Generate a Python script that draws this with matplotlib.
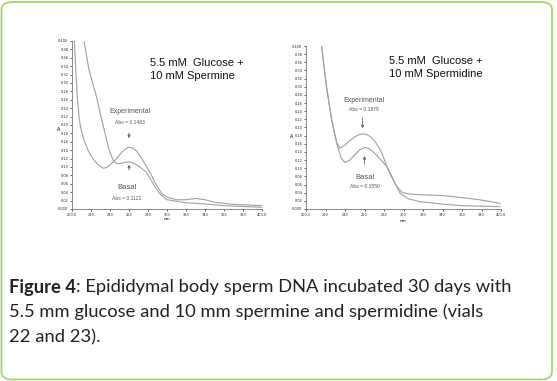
import matplotlib
matplotlib.use("Agg")
import matplotlib.pyplot as plt
from matplotlib.patches import FancyBboxPatch

W, H = 557, 381

# ---- data ----
sp_exp_nm = [201.0, 202.5, 204.0, 205.5, 207.7, 210.0, 212.5, 216.8, 220.0, 223.0, 228.0, 233.0, 236.5,
             240.0, 245.0, 250.0, 255.0, 259.5, 264.0, 268.0, 273.0, 278.0, 283.0, 288.0, 294.5, 300.0,
             310.0, 320.0, 330.0, 340.0, 350.0, 370.0, 400.0]
sp_exp_A = [0.55, 0.40, 0.33, 0.27, 0.212, 0.185, 0.165, 0.14, 0.127, 0.117, 0.104, 0.097, 0.099,
            0.105, 0.115, 0.129, 0.141, 0.147, 0.145, 0.138, 0.122, 0.103, 0.083, 0.060, 0.037, 0.028,
            0.022, 0.022, 0.025, 0.022, 0.016, 0.011, 0.008]

sp_bas_nm = [211.0, 212.6, 218.0, 225.8, 230.0, 234.0, 239.0, 244.0, 248.0, 252.0, 256.0, 260.0, 264.0,
             268.0, 273.0, 278.0, 283.0, 288.0, 293.0, 300.0, 320.0, 340.0, 360.0, 400.0]
sp_bas_A = [0.45, 0.40, 0.33, 0.267, 0.225, 0.188, 0.14, 0.113, 0.108, 0.109, 0.111, 0.112, 0.110,
            0.105, 0.097, 0.088, 0.070, 0.050, 0.035, 0.022, 0.015, 0.012, 0.008, 0.004]

sd_exp_nm = [214.0, 216.0, 221.0, 226.4, 230.0, 232.0, 234.9, 240.0, 245.0, 250.0, 255.0, 259.0, 263.0,
             267.0, 271.0, 275.0, 279.0, 283.0, 287.0, 291.3, 295.0, 298.0, 303.0, 310.0, 327.0, 340.0,
             360.0, 380.0, 399.0]
sd_exp_A = [0.45, 0.40, 0.30, 0.218, 0.18, 0.16, 0.149, 0.157, 0.168, 0.177, 0.183, 0.1845, 0.182,
            0.176, 0.165, 0.150, 0.130, 0.104, 0.082, 0.063, 0.050, 0.042, 0.038, 0.036, 0.034, 0.033,
            0.028, 0.022, 0.014]

sd_bas_nm = [214.0, 216.0, 221.0, 226.4, 231.5, 236.0, 240.0, 245.0, 250.0, 255.0, 260.0, 264.0, 268.0,
             272.0, 277.0, 283.0, 287.0, 291.0, 296.4, 305.0, 317.0, 340.0, 360.0, 399.0]
sd_bas_A = [0.45, 0.40, 0.30, 0.218, 0.161, 0.125, 0.114, 0.120, 0.133, 0.145, 0.151, 0.149, 0.142,
            0.133, 0.120, 0.104, 0.085, 0.065, 0.039, 0.025, 0.018, 0.012, 0.008, 0.0057]

y_ticks = [0.0, 0.02, 0.04, 0.06, 0.08, 0.10, 0.12, 0.14, 0.16, 0.18, 0.20, 0.22, 0.24, 0.26, 0.28,
           0.30, 0.32, 0.34, 0.36, 0.38, 0.40]
y_ticklabels = ["0.000", "0.02", "0.04", "0.06", "0.08", "0.10", "0.12", "0.14", "0.16", "0.18", "0.20",
                "0.22", "0.24", "0.26", "0.28", "0.30", "0.32", "0.34", "0.36", "0.38", "0.400"]
x_ticks = [200, 220, 240, 260, 280, 300, 320, 340, 360, 380, 400]
x_ticklabels_left = ["200.0", "220", "240", "260", "280", "300", "320", "340", "360", "380", "400.0"]
x_ticklabels_right = ["200.1", "220", "240", "260", "280", "300", "320", "340", "360", "380", "400.0"]

titles = [("5.5 mM  Glucose +", "10 mM Spermine"), ("5.5 mM  Glucose +", "10 mM Spermidine")]
exp_abs = ["Abs = 0.1483", "Abs = 0.1879"]
bas_abs = ["Abs = 0.1121", "Abs = 0.1550"]

fig = plt.figure(figsize=(W / 100, H / 100), dpi=100)
fig.patch.set_facecolor("white")

# green rounded border
border = FancyBboxPatch((1.5 / W, 1.5 / H), (552 - 1.5) / W, (379 - 1.5) / H,
                        boxstyle="round,pad=0,rounding_size=0.02", transform=fig.transFigure,
                        facecolor="none", edgecolor="#a6d46e", linewidth=1.3, zorder=0)
fig.patches.append(border)


def px_axes(x0, x1, ytop, ybot):
    return fig.add_axes([x0 / W, 1 - ybot / H, (x1 - x0) / W, (ybot - ytop) / H])


line_col = "#a0a0a0"
text_col = "#555555"

panels = [
    dict(box=(72, 262, 41, 209), exp=(sp_exp_nm, sp_exp_A), bas=(sp_bas_nm, sp_bas_A),
         xtl=x_ticklabels_left, exp_txt=(261, 0.231, 0.205), exp_arrow=(260, 0.188, 0.162),
         bas_arrow=(260, 0.086, 0.112), bas_txt=(258, 0.050, 0.026), title_px=(150, 63, 76),
         A_px=(59, 129), nm_px=(167, 219)),
    dict(box=(306, 501, 46, 209), exp=(sd_exp_nm, sd_exp_A), bas=(sd_bas_nm, sd_bas_A),
         xtl=x_ticklabels_right, exp_txt=(259.5, 0.266, 0.245), exp_arrow=(258, 0.231, 0.191),
         bas_arrow=(260, 0.103, 0.137), bas_txt=(260, 0.0785, 0.056), title_px=(389, 61, 74),
         A_px=(292, 137), nm_px=(403, 221)),
]

for i, p in enumerate(panels):
    ax = px_axes(*p["box"])
    ax.plot(*p["exp"], color=line_col, lw=0.8)
    ax.plot(*p["bas"], color=line_col, lw=0.8)
    ax.set_xlim(200, 400)
    ax.set_ylim(0, 0.4)
    ax.set_yticks(y_ticks)
    ax.set_yticklabels(y_ticklabels)
    ax.set_xticks(x_ticks)
    ax.set_xticklabels(p["xtl"])
    ax.tick_params(labelsize=2.5, length=1.5, width=0.5, pad=1.2, colors="#222222")
    for s in ("top", "right"):
        ax.spines[s].set_visible(False)
    for s in ("left", "bottom"):
        ax.spines[s].set_linewidth(0.6)
        ax.spines[s].set_color("#777777")
    ax.patch.set_alpha(0)

    ex, ey1, ey2 = p["exp_txt"]
    ax.text(ex, ey1, "Experimental", ha="center", va="center", fontsize=5, color=text_col,
            family="Liberation Sans")
    ax.text(ex, ey2, exp_abs[i], ha="center", va="center", fontsize=3.6, color=text_col,
            family="Liberation Sans")
    ax_, a1, a2 = p["exp_arrow"]
    ax.annotate("", xy=(ax_, a2), xytext=(ax_, a1),
                arrowprops=dict(arrowstyle="-|>", color="#666666", lw=0.6, mutation_scale=4))
    bx, b1, b2 = p["bas_arrow"]
    ax.annotate("", xy=(bx, b2), xytext=(bx, b1),
                arrowprops=dict(arrowstyle="-|>", color="#666666", lw=0.6, mutation_scale=4))
    tx, t1, t2 = p["bas_txt"]
    ax.text(tx, t1, "Basal", ha="center", va="center", fontsize=5.5, color=text_col,
            family="Liberation Sans")
    ax.text(tx, t2, bas_abs[i], ha="center", va="center", fontsize=3.6, color=text_col,
            family="Liberation Sans")

    tx0, ty1, ty2 = p["title_px"]
    fig.text(tx0 / W, 1 - ty1 / H, titles[i][0], ha="left", va="center", fontsize=8,
             family="Liberation Sans", color="#111111")
    fig.text(tx0 / W, 1 - ty2 / H, titles[i][1], ha="left", va="center", fontsize=8,
             family="Liberation Sans", color="#111111")
    fig.text(p["A_px"][0] / W, 1 - p["A_px"][1] / H, "A", fontsize=3.5, ha="center", va="center")
    fig.text(p["nm_px"][0] / W, 1 - p["nm_px"][1] / H, "nm", fontsize=3, ha="center", va="center")

# caption
cap_fs = 13.2
cap_family = "Lato"
renderer = fig.canvas.get_renderer()
t_bold = fig.text(9 / W, 1 - 287 / H, "Figure 4", fontsize=cap_fs, fontweight="bold",
                  family=cap_family, ha="left", va="center", color="#222222")
bb = t_bold.get_window_extent(renderer=renderer)
fig.text(bb.x1 / W, 1 - 287 / H, ": Epididymal body sperm DNA incubated 30 days with",
         fontsize=cap_fs, family=cap_family, ha="left", va="center", color="#222222")
fig.text(9 / W, 1 - 312 / H, "5.5 mm glucose and 10 mm spermine and spermidine (vials",
         fontsize=cap_fs, family=cap_family, ha="left", va="center", color="#222222")
fig.text(9 / W, 1 - 337 / H, "22 and 23).", fontsize=cap_fs, family=cap_family, ha="left",
         va="center", color="#222222")

fig.savefig("out.png", dpi=100)
